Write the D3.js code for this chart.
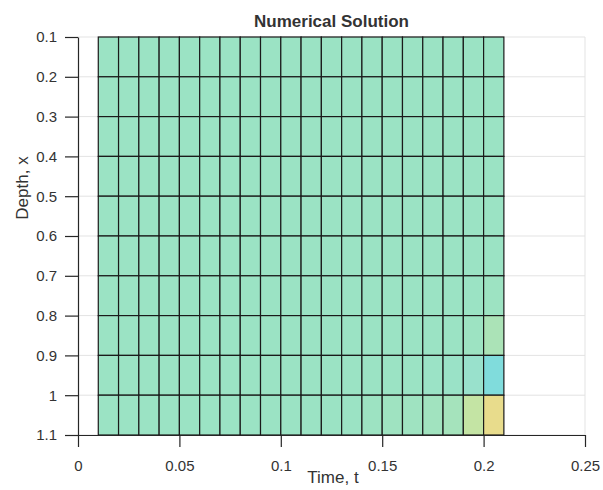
<!DOCTYPE html>
<html>
<head>
<meta charset="utf-8">
<script src="https://cdn.jsdelivr.net/npm/d3@7"></script>
<style>
  body { margin: 0; background: #fff; }
  svg text { font-family: "Liberation Sans", Arial, sans-serif; fill: #333; }
</style>
</head>
<body>
<script>
var width  = 603,
    height = 490,
    margin = {top: 37, right: 18, bottom: 55, left: 78};

// grid nodes of the surface
var times  = [0.01, 0.02, 0.03, 0.04, 0.05, 0.06, 0.07, 0.08, 0.09, 0.10, 0.11,
              0.12, 0.13, 0.14, 0.15, 0.16, 0.17, 0.18, 0.19, 0.20, 0.21];
var depths = [0.1, 0.2, 0.3, 0.4, 0.5, 0.6, 0.7, 0.8, 0.9, 1.0, 1.1];

// cell values (rows = depth, cols = time)
var u = [
  [0.50,0.50,0.50,0.50,0.50,0.50,0.50,0.50,0.50,0.50,0.50,0.50,0.50,0.50,0.50,0.50,0.50,0.50,0.50,0.50],
  [0.50,0.50,0.50,0.50,0.50,0.50,0.50,0.50,0.50,0.50,0.50,0.50,0.50,0.50,0.50,0.50,0.50,0.50,0.50,0.50],
  [0.50,0.50,0.50,0.50,0.50,0.50,0.50,0.50,0.50,0.50,0.50,0.50,0.50,0.50,0.50,0.50,0.50,0.50,0.50,0.50],
  [0.50,0.50,0.50,0.50,0.50,0.50,0.50,0.50,0.50,0.50,0.50,0.50,0.50,0.50,0.50,0.50,0.50,0.50,0.50,0.50],
  [0.50,0.50,0.50,0.50,0.50,0.50,0.50,0.50,0.50,0.50,0.50,0.50,0.50,0.50,0.50,0.50,0.50,0.50,0.50,0.50],
  [0.50,0.50,0.50,0.50,0.50,0.50,0.50,0.50,0.50,0.50,0.50,0.50,0.50,0.50,0.50,0.50,0.50,0.50,0.50,0.50],
  [0.50,0.50,0.50,0.50,0.50,0.50,0.50,0.50,0.50,0.50,0.50,0.50,0.50,0.50,0.50,0.50,0.50,0.50,0.50,0.51],
  [0.50,0.50,0.50,0.50,0.50,0.50,0.50,0.50,0.50,0.50,0.50,0.50,0.50,0.50,0.50,0.50,0.50,0.50,0.51,0.58],
  [0.50,0.50,0.50,0.50,0.50,0.50,0.50,0.50,0.50,0.50,0.50,0.50,0.50,0.50,0.50,0.50,0.49,0.48,0.45,0.20],
  [0.50,0.50,0.50,0.50,0.50,0.50,0.50,0.50,0.50,0.50,0.50,0.50,0.50,0.51,0.52,0.52,0.53,0.55,0.70,1.00]
];

var xTicks = [0, 0.05, 0.1, 0.15, 0.2, 0.25],
    xTickLabels = ["0", "0.05", "0.1", "0.15", "0.2", "0.25"];
var yTicks = [0.1, 0.2, 0.3, 0.4, 0.5, 0.6, 0.7, 0.8, 0.9, 1.0, 1.1],
    yTickLabels = ["0.1", "0.2", "0.3", "0.4", "0.5", "0.6", "0.7", "0.8", "0.9", "1", "1.1"];

var title = "Numerical Solution",
    xLabel = "Time, t",
    yLabel = "Depth, x";

window.onload = function(){
  var x = d3.scaleLinear().domain([0, 0.25]).range([margin.left, width - margin.right]),
      y = d3.scaleLinear().domain([0.1, 1.1]).range([margin.top, height - margin.bottom]);

  var colour = d3.scaleLinear()
      .domain([0.2, 0.42, 0.5, 0.7, 1.0])
      .range(["#80dcdc", "#97e0d0", "#9be3c4", "#c4e4a4", "#e8dc8c"])
      .clamp(true);

  var svg = d3.select("body").append("svg").attr("width", width).attr("height", height);

  // grid + box
  svg.append("g").selectAll("line")
    .data(yTicks.slice(1))
    .enter().append("line")
      .attr("x1", x(0)).attr("x2", x(0.25))
      .attr("y1", function(d){ return y(d); }).attr("y2", function(d){ return y(d); })
      .attr("stroke", "#e3e3e3").attr("stroke-width", 1);
  svg.append("path")
    .attr("d", "M" + x(0) + "," + y(0.1) + "H" + x(0.25) + "V" + y(1.1))
    .attr("fill", "none").attr("stroke", "#e3e3e3").attr("stroke-width", 1);

  // surface cells
  var cells = [];
  u.forEach(function(row, j){
    row.forEach(function(v, i){ cells.push({i: i, j: j, v: v}); });
  });
  svg.append("g").selectAll(".cell")
    .data(cells)
    .enter().append("rect")
      .attr("class", "cell")
      .attr("x", function(d){ return x(times[d.i]); })
      .attr("y", function(d){ return y(depths[d.j]); })
      .attr("width", function(d){ return x(times[d.i + 1]) - x(times[d.i]); })
      .attr("height", function(d){ return y(depths[d.j + 1]) - y(depths[d.j]); })
      .attr("fill", function(d){ return colour(d.v); })
      .attr("stroke", "#1a1a1a")
      .attr("stroke-width", 1.2);

  // axes
  var xAxis = svg.append("g")
    .attr("transform", "translate(0," + y(1.1) + ")")
    .call(d3.axisBottom(x).tickValues(xTicks).tickSize(12).tickSizeOuter(0).tickPadding(13)
      .tickFormat(function(d, i){ return xTickLabels[i]; }));
  var yAxis = svg.append("g")
    .attr("transform", "translate(" + x(0) + ",0)")
    .call(d3.axisLeft(y).tickValues(yTicks).tickSize(13).tickSizeOuter(0).tickPadding(8)
      .tickFormat(function(d, i){ return yTickLabels[i]; }));
  [xAxis, yAxis].forEach(function(a){
    a.selectAll("path, line").attr("stroke", "#262626").attr("stroke-width", 1.2);
    a.selectAll("text").attr("font-size", 15).attr("fill", "#3a3a3a")
      .attr("font-family", "'Liberation Sans', Arial, sans-serif");
  });

  svg.append("text")
    .attr("x", (x(0) + x(0.25)) / 2).attr("y", 27)
    .attr("text-anchor", "middle")
    .attr("font-size", 17).attr("font-weight", "bold").attr("fill", "#111")
    .text(title);

  svg.append("text")
    .attr("x", 333).attr("y", 483)
    .attr("text-anchor", "middle")
    .attr("font-size", 17)
    .text(xLabel);

  svg.append("text")
    .attr("transform", "translate(28,188) rotate(-90)")
    .attr("text-anchor", "middle")
    .attr("font-size", 17)
    .text(yLabel);
};
</script>
</body>
</html>
